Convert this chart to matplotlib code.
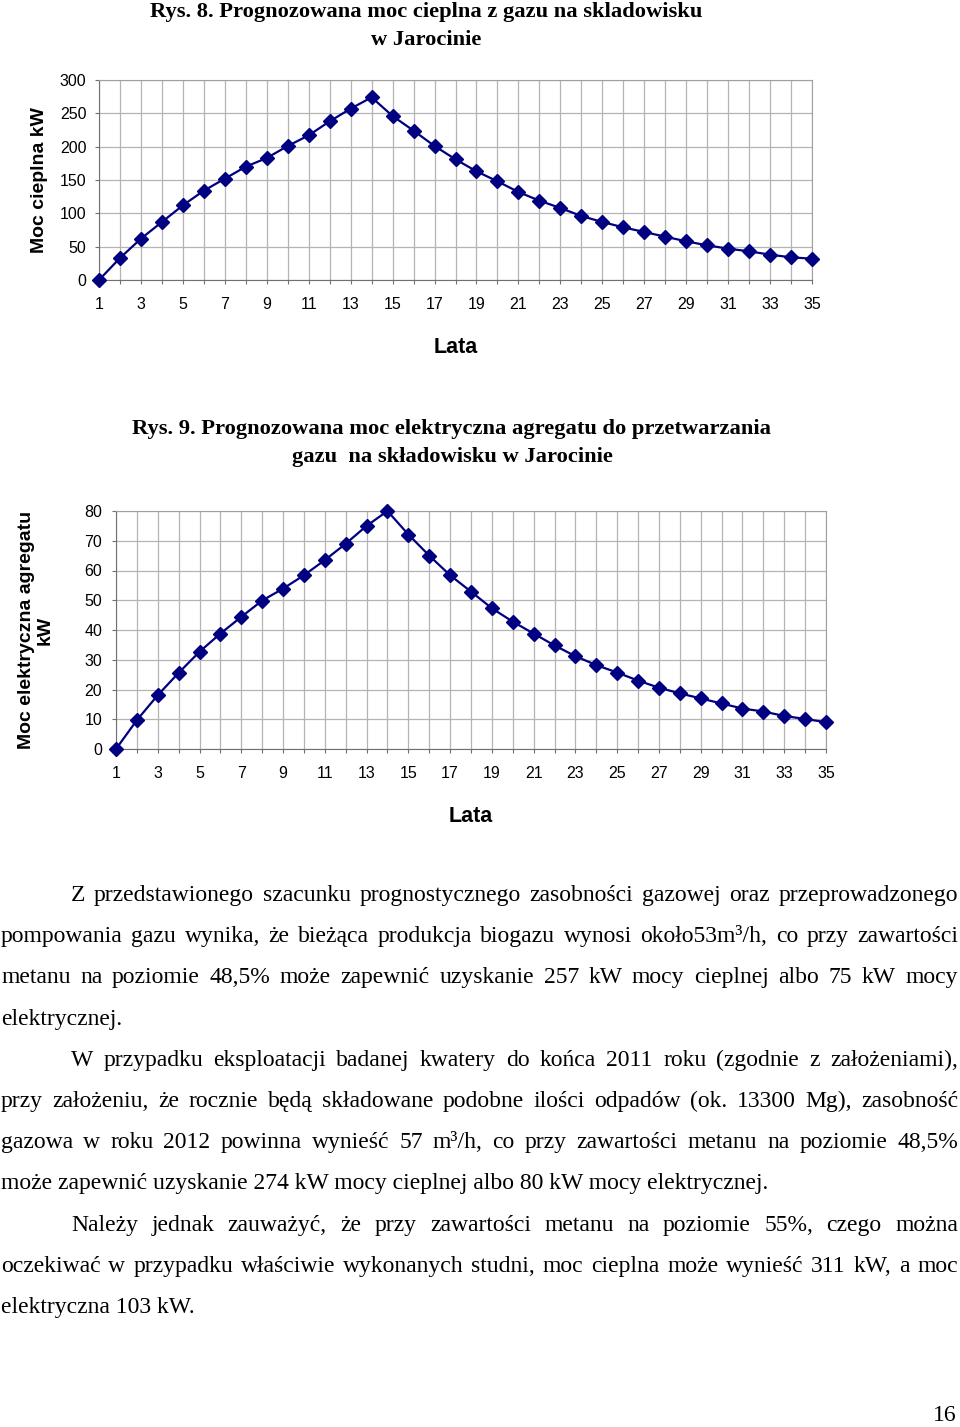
import matplotlib
matplotlib.use('Agg')
import matplotlib.pyplot as plt
import numpy as np

# data
years = np.arange(1, 36)
heat_kw = [0, 33, 62, 87, 112, 134, 152, 170, 183, 201,
           217, 238, 257, 274, 246, 224, 201, 181, 163, 148,
           132, 119, 108, 96, 87, 79, 72, 65, 58, 52,
           47, 43, 38, 34, 32]
power_kw = [0, 9.7, 18.1, 25.6, 32.7, 38.8, 44.4, 49.9, 53.9, 58.4,
            63.5, 69, 75, 80, 72.1, 65, 58.4, 52.9, 47.3, 42.8,
            38.8, 34.8, 31.2, 28.2, 25.7, 23, 20.6, 18.7, 17, 15.3,
            13.6, 12.6, 11.1, 10.1, 9]

title1 = "Rys. 8. Prognozowana moc cieplna z gazu na skladowisku\nw Jarocinie"
title2 = "Rys. 9. Prognozowana moc elektryczna agregatu do przetwarzania\ngazu  na składowisku w Jarocinie"
ylabel1 = "Moc cieplna kW"
ylabel2 = "Moc elektryczna agregatu\nkW"
xlabel = "Lata"

# body text: (line, indented, justified)
body = [
    ("Z przedstawionego szacunku prognostycznego zasobności gazowej oraz przeprowadzonego", True, True),
    ("pompowania gazu wynika, że bieżąca produkcja biogazu wynosi około53m³/h, co przy zawartości", False, True),
    ("metanu na poziomie 48,5% może zapewnić uzyskanie 257 kW mocy cieplnej albo 75 kW mocy", False, True),
    ("elektrycznej.", False, False),
    ("W przypadku eksploatacji badanej kwatery do końca 2011 roku (zgodnie z założeniami),", True, True),
    ("przy założeniu, że rocznie będą składowane podobne ilości odpadów (ok. 13300 Mg), zasobność", False, True),
    ("gazowa w roku 2012 powinna wynieść 57 m³/h, co przy zawartości metanu na poziomie 48,5%", False, True),
    ("może zapewnić uzyskanie 274 kW mocy cieplnej albo 80 kW mocy elektrycznej.", False, False),
    ("Należy jednak zauważyć, że przy zawartości metanu na poziomie 55%, czego można", True, True),
    ("oczekiwać w przypadku właściwie wykonanych studni, moc cieplna może wynieść 311 kW, a moc", False, True),
    ("elektryczna 103 kW.", False, False),
]
page_no = "16"

W, H = 960, 1427


def fx(x):
    return x / W


def fy(y):
    return 1 - y / H


sans = 'Liberation Sans'
serif = 'Liberation Serif'
navy = '#000080'

fig = plt.figure(figsize=(W / 100, H / 100), dpi=100)


def make_chart(box, values, ymax, ystep, ylabel, ylabel_x, ypad):
    left, top, right, bottom = box
    ax = fig.add_axes([fx(left), fy(bottom), (right - left) / W, (bottom - top) / H])
    ax.plot(years, values, color=navy, linewidth=1.6, marker='D', markersize=7,
            markerfacecolor=navy, markeredgecolor=navy, clip_on=False, zorder=3)
    ax.set_xlim(1, 35)
    ax.set_ylim(0, ymax)
    ax.set_xticks(years)
    ax.set_xticklabels([str(y) if y % 2 else '' for y in years])
    ax.set_yticks(np.arange(0, ymax + 1, ystep))
    ax.grid(True, color='#b4b4b4', linewidth=0.9)
    ax.set_axisbelow(True)
    ax.tick_params(axis='both', direction='out', length=3, width=0.8,
                   color='#707070', labelsize=11.5)
    ax.tick_params(axis='x', pad=9)
    ax.tick_params(axis='y', pad=ypad)
    for lab in ax.get_xticklabels() + ax.get_yticklabels():
        lab.set_fontfamily(sans)
    for side in ['left', 'bottom']:
        ax.spines[side].set_color('#707070')
    for side in ['top', 'right']:
        ax.spines[side].set_color('#a0a0a0')
    ax.set_xlabel(xlabel, fontfamily=sans, fontsize=15.5, fontweight='bold', labelpad=18)
    fig.text(fx(ylabel_x), fy((top + bottom) / 2), ylabel, rotation=90, ha='center',
             va='center', fontfamily=sans, fontsize=14, fontweight='bold',
             linespacing=1.15, multialignment='center')
    return ax


ax1 = make_chart((99, 80, 812, 280), heat_kw, 300, 50, ylabel1, 40, 6)
ax2 = make_chart((116, 511, 826, 749), power_kw, 80, 10, ylabel2, 36, 7)

fig.text(fx(426), fy(26), title1, ha='center', va='center', fontfamily=serif,
         fontsize=16.2, fontweight='bold', linespacing=1.5)
fig.text(fx(452), fy(443), title2, ha='center', va='center', fontfamily=serif,
         fontsize=16.2, fontweight='bold', linespacing=1.5)

# justified paragraph text
renderer = fig.canvas.get_renderer()
tkw = dict(fontfamily=serif, fontsize=17, va='baseline', ha='left')
x_left, x_right, indent = 1, 958, 70
baseline0, line_step = 901, 41.2
for i, (line, indented, justified) in enumerate(body):
    y = fy(baseline0 + i * line_step)
    x0 = x_left + (indent if indented else 0)
    if not justified:
        fig.text(fx(x0), y, line, **tkw)
        continue
    words = line.split(' ')
    objs = [fig.text(0, y, w, **tkw) for w in words]
    widths = [o.get_window_extent(renderer).width for o in objs]
    gap = (x_right - x0 - sum(widths)) / (len(words) - 1)
    x = x0
    for o, w in zip(objs, widths):
        o.set_x(fx(x))
        x += w + gap

fig.text(fx(957), fy(1426), page_no, ha='right', va='bottom', fontfamily=serif, fontsize=17)

fig.savefig('out.png', dpi=100)
